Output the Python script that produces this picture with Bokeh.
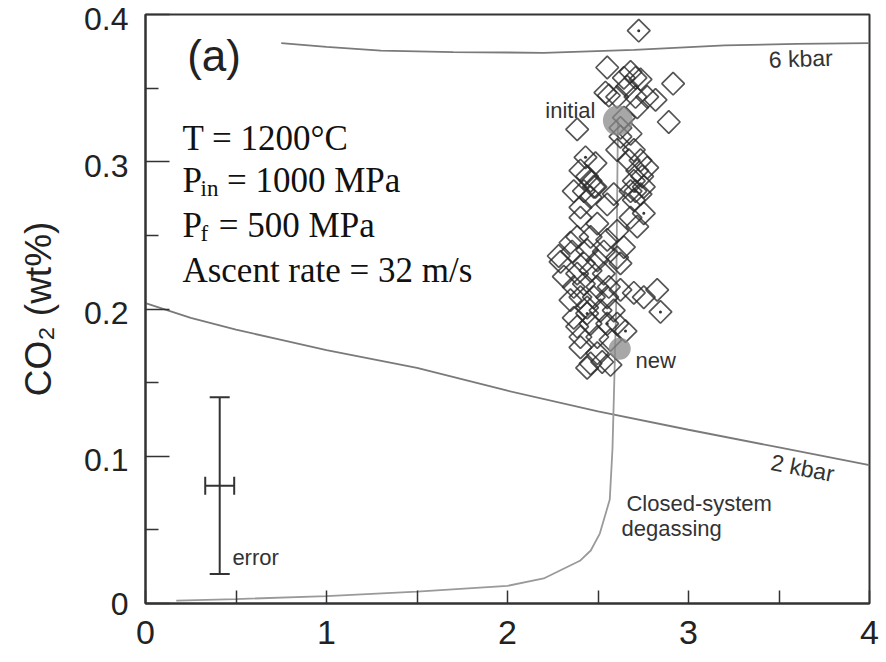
from bokeh.plotting import figure
from bokeh.models import (Range1d, FixedTicker, Label, Whisker, ColumnDataSource, TeeHead,
                          LinearAxis)
from bokeh.embed import file_html
from bokeh.resources import INLINE
import math

# ---------------- data ----------------
kbar6_x = [0.75, 1.0, 1.3, 1.7, 2.2, 2.7, 3.2, 3.6, 4.0]
kbar6_y = [0.3805, 0.378, 0.3755, 0.3745, 0.374, 0.376, 0.379, 0.380, 0.3805]

kbar2_x = [0.0, 0.25, 0.5, 0.75, 1.0, 1.5, 2.0, 2.5, 3.0, 3.5, 4.0]
kbar2_y = [0.204, 0.194, 0.186, 0.179, 0.172, 0.160, 0.1445, 0.1305, 0.118, 0.106, 0.094]

degas_x = [0.17, 0.5, 1.0, 1.5, 2.0, 2.2, 2.40, 2.46, 2.51, 2.565, 2.58, 2.59, 2.60, 2.61]
degas_y = [0.002, 0.003, 0.005, 0.008, 0.012, 0.017, 0.029, 0.036, 0.0475, 0.0706, 0.105, 0.151, 0.20, 0.328]

melt_x = [2.725, 2.551, 2.680, 2.707, 2.735, 2.915, 2.541, 2.560, 2.606, 2.707, 2.818, 2.717,
          2.385, 2.891, 2.624, 2.680, 2.431, 2.486, 2.606, 2.698, 2.735, 2.717, 2.440, 2.486,
          2.744, 2.753, 2.680, 2.422, 2.459, 2.707, 2.698, 2.753, 2.680, 2.717, 2.403, 2.551,
          2.496, 2.385, 2.459, 2.348, 2.551, 2.283, 2.357, 2.440, 2.532, 2.643, 2.606, 2.311,
          2.385, 2.459, 2.532, 2.422, 2.496, 2.560, 2.348, 2.403, 2.477, 2.551, 2.698, 2.753,
          2.827, 2.845, 2.366, 2.440, 2.514, 2.587, 2.385, 2.459, 2.551, 2.652, 2.403, 2.496,
          2.569, 2.459, 2.523, 2.569,
          2.366, 2.477, 2.587, 2.403, 2.606, 2.293, 2.422, 2.496, 2.624, 2.366, 2.624, 2.440,
          2.606, 2.403, 2.496, 2.440,
          2.643, 2.661, 2.772, 2.643, 2.624, 2.670, 2.772, 2.403, 2.459, 2.698, 2.735]
melt_y = [0.389, 0.364, 0.361, 0.357, 0.356, 0.353, 0.347, 0.345, 0.344, 0.344, 0.342, 0.337,
          0.322, 0.327, 0.323, 0.319, 0.303, 0.299, 0.308, 0.308, 0.301, 0.294, 0.290, 0.283,
          0.290, 0.283, 0.280, 0.280, 0.276, 0.280, 0.274, 0.265, 0.262, 0.256, 0.269, 0.271,
          0.258, 0.249, 0.249, 0.245, 0.247, 0.236, 0.239, 0.240, 0.239, 0.242, 0.235, 0.222,
          0.224, 0.226, 0.224, 0.217, 0.215, 0.215, 0.206, 0.208, 0.208, 0.208, 0.211, 0.208,
          0.213, 0.198, 0.194, 0.197, 0.199, 0.199, 0.188, 0.190, 0.190, 0.185, 0.181, 0.181,
          0.179, 0.163, 0.164, 0.162,
          0.280, 0.283, 0.278, 0.262, 0.253, 0.232, 0.231, 0.233, 0.231, 0.215, 0.213, 0.201,
          0.190, 0.174, 0.170, 0.160,
          0.357, 0.351, 0.344, 0.330, 0.317, 0.301, 0.296, 0.294, 0.287, 0.287, 0.278]
dot_x = [2.725, 2.431, 2.753, 2.845, 2.440, 2.551, 2.652, 2.707]
dot_y = [0.389, 0.303, 0.265, 0.198, 0.197, 0.190, 0.185, 0.280]

initial_x, initial_y = [2.61], [0.328]
new_x, new_y = [2.62], [0.173]

err_x, err_y = [0.41], [0.08]
err_dx, err_dy = 0.08, 0.06

x_major = [0, 1, 2, 3, 4]
x_minor = [0.5, 1.5, 2.5, 3.5]
y_major = [0.0, 0.1, 0.2, 0.3, 0.4]
y_minor = [0.05, 0.15, 0.25, 0.35]
y_tick_text = ["0", "0.1", "0.2", "0.3", "0.4"]

# ---------------- figure ----------------
W, H = 884, 660
TOP, BOTTOM = 14, 57
p = figure(width=W, height=H, output_backend="svg", toolbar_location=None,
           x_range=Range1d(0, 4), y_range=Range1d(0, 0.4),
           min_border_left=145, min_border_right=15, min_border_top=TOP, min_border_bottom=BOTTOM)
p.grid.visible = False
p.background_fill_color = "white"
p.border_fill_color = "white"
p.outline_line_color = "#333333"
p.outline_line_width = 2

SANS = "Liberation Sans"
AX = "#333333"
LBL = "#222222"

xa = p.xaxis[0]
ya = p.yaxis[0]
for ax in (xa, ya):
    ax.axis_line_color = AX
    ax.axis_line_width = 2
    ax.major_tick_line_color = AX
    ax.minor_tick_line_color = AX
    ax.major_tick_line_width = 1.5
    ax.minor_tick_line_width = 1.5
    ax.major_tick_out = 0
    ax.minor_tick_out = 0
    ax.major_label_text_font = SANS
    ax.major_label_text_color = LBL

xa.ticker = FixedTicker(ticks=x_major, minor_ticks=x_minor)
xa.major_tick_in = 13
xa.minor_tick_in = 13
xa.major_label_text_font_size = "34px"
xa.major_label_standoff = 17

# inner y axis: line and inward ticks only
ya.ticker = FixedTicker(ticks=y_major, minor_ticks=y_minor)
ya.major_tick_in = 24
ya.minor_tick_in = 13
ya.major_label_overrides = {v: "" for v in y_major}
ya.major_label_standoff = 0
ya.major_label_text_font_size = "1px"

# outer y axis: tick labels; upper ones nudged a few px down so "0.4" stays inside the page
frame_h = H - TOP - BOTTOM
shift = 4 * 0.4 / frame_h
p.extra_y_ranges = {"labels": Range1d(shift, 0.4 + shift)}
label_ticks = [shift] + y_major[1:]          # the "0" label sits exactly on its tick
label_map = {t: s for t, s in zip(label_ticks, y_tick_text)}
yl = LinearAxis(y_range_name="labels", ticker=FixedTicker(ticks=label_ticks),
                major_label_overrides=label_map,
                axis_line_color=None, major_tick_line_color=None, minor_tick_line_color=None,
                major_tick_in=0, major_tick_out=0, minor_tick_in=0, minor_tick_out=0,
                major_label_standoff=17,
                major_label_text_font=SANS, major_label_text_font_size="32px",
                major_label_text_color=LBL,
                axis_label="CO₂ (wt%)", axis_label_text_font=SANS,
                axis_label_text_font_size="37px", axis_label_text_font_style="normal",
                axis_label_text_color=LBL, axis_label_standoff=22)
p.add_layout(yl, "left")

CURVE = "#7a7a7a"
p.line(kbar6_x, kbar6_y, line_color=CURVE, line_width=1.8)
p.line(kbar2_x, kbar2_y, line_color=CURVE, line_width=1.8)
p.line(degas_x, degas_y, line_color="#9a9a9a", line_width=1.8)

# diamonds
p.scatter(melt_x, melt_y, marker="square", size=16, angle=math.pi / 4,
          fill_color=None, line_color="#2a2a2a", line_width=1.7, line_alpha=0.8)
p.scatter(dot_x, dot_y, marker="circle", size=3, fill_color="#333333", line_color=None)

# initial / new points
p.scatter(initial_x, initial_y, marker="circle", size=30, fill_color="#8a8a8a",
          fill_alpha=0.75, line_color=None)
p.scatter(new_x, new_y, marker="circle", size=22, fill_color="#8a8a8a",
          fill_alpha=0.75, line_color=None)

# error bar
src = ColumnDataSource(dict(x=err_x, y=err_y,
                            lo=[err_y[0] - err_dy], hi=[err_y[0] + err_dy],
                            left=[err_x[0] - err_dx], right=[err_x[0] + err_dx]))
p.add_layout(Whisker(source=src, base="x", lower="lo", upper="hi", dimension="height",
                     line_color=AX, line_width=2,
                     lower_head=TeeHead(size=20, line_color=AX, line_width=2),
                     upper_head=TeeHead(size=20, line_color=AX, line_width=2)))
p.add_layout(Whisker(source=src, base="y", lower="left", upper="right", dimension="width",
                     line_color=AX, line_width=2,
                     lower_head=TeeHead(size=18, line_color=AX, line_width=2),
                     upper_head=TeeHead(size=18, line_color=AX, line_width=2)))

TXT = "#333333"
def lab(x, y, t, size, font=SANS, align="left", baseline="middle", angle=0.0,
        style="normal", color=TXT):
    p.add_layout(Label(x=x, y=y, text=t, text_font=font, text_font_size=size,
                       text_align=align, text_baseline=baseline, angle=angle,
                       text_font_style=style, text_color=color))

lab(0.23, 0.372, "(a)", "44px", color=LBL)
lab(2.486, 0.335, "initial", "22px", align="right")
lab(2.707, 0.165, "new", "22px")
lab(0.48, 0.031, "error", "22px")
lab(2.657, 0.068, "Closed-system", "22px")
lab(2.63, 0.051, "degassing", "22px")
lab(3.63, 0.092, "2 kbar", "23px", align="center", angle=-0.19)
lab(3.62, 0.370, "6 kbar", "23px", align="center", angle=0.03)

SERIF = "Liberation Serif"
INK = "#111111"
lab(0.204, 0.3158, "T = 1200°C", "35px", font=SERIF, baseline="alphabetic", color=INK)
lab(0.204, 0.2873, "P", "35px", font=SERIF, baseline="alphabetic", color=INK)
lab(0.304, 0.2819, "in", "23px", font=SERIF, baseline="alphabetic", color=INK)
lab(0.450, 0.2873, "= 1000 MPa", "35px", font=SERIF, baseline="alphabetic", color=INK)
lab(0.204, 0.2567, "P", "35px", font=SERIF, baseline="alphabetic", color=INK)
lab(0.304, 0.2513, "f", "23px", font=SERIF, baseline="alphabetic", color=INK)
lab(0.405, 0.2567, "= 500 MPa", "35px", font=SERIF, baseline="alphabetic", color=INK)
lab(0.204, 0.2261, "Ascent rate = 32 m/s", "35px", font=SERIF, baseline="alphabetic", color=INK)

open("out.html", "w").write(file_html(p, INLINE))
